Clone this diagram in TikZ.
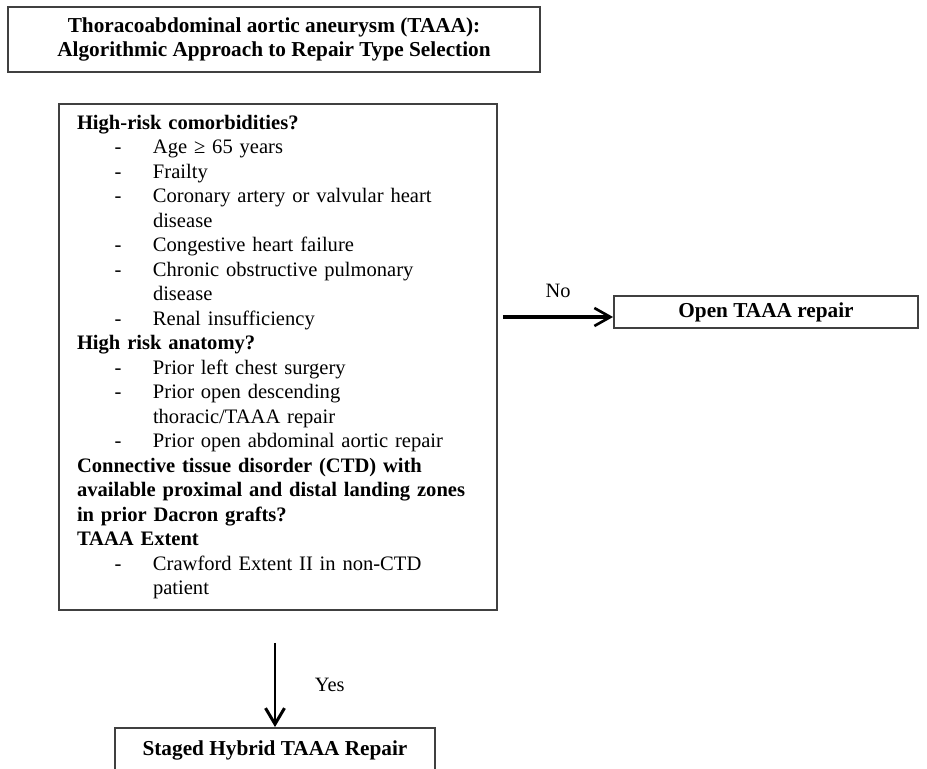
\documentclass[tikz,border=0pt]{standalone}
\usepackage{fontspec}
\setmainfont{Liberation Serif}
\usepackage{tikz}
\usetikzlibrary{arrows.meta,calc}

\begin{document}
\begin{tikzpicture}[
  box/.style={draw=black!75,line width=1.1pt,align=center,inner sep=0pt},
  boxfont/.style={font=\fontsize{12.1}{14.2}\selectfont\bfseries},
  flow/.style={-{Straight Barb[length=3.2mm,width=3.8mm,line width=1.7pt]},line width=1.1pt}]
  \useasboundingbox (0,0) rectangle (18.54,15.36);
  \node[box,boxfont,minimum width=10.64cm,minimum height=1.3cm] (title) at (5.48,14.57)
    {Thoracoabdominal aortic aneurysm (TAAA):\\Algorithmic Approach to Repair Type Selection};
  \node[box,text width=8.04cm,align=left,inner xsep=0.36cm,minimum height=10.12cm,
        font=\fontsize{11.7}{13.95}\selectfont] (risk) at (5.56,8.22)
    {\begin{tabular}{@{}p{0.75cm}@{}p{0.77cm}@{}l@{}}
      \multicolumn{3}{@{}l@{}}{\textbf{High-risk comorbidities?}}\\
      & - & Age ≥ 65 years\\
      & - & Frailty\\
      & - & Coronary artery or valvular heart\\
      &   & disease\\
      & - & Congestive heart failure\\
      & - & Chronic obstructive pulmonary\\
      &   & disease\\
      & - & Renal insufficiency\\
      \multicolumn{3}{@{}l@{}}{\textbf{High risk anatomy?}}\\
      & - & Prior left chest surgery\\
      & - & Prior open descending\\
      &   & thoracic/TAAA repair\\
      & - & Prior open abdominal aortic repair\\
      \multicolumn{3}{@{}l@{}}{\textbf{Connective tissue disorder (CTD) with}}\\
      \multicolumn{3}{@{}l@{}}{\textbf{available proximal and distal landing zones}}\\
      \multicolumn{3}{@{}l@{}}{\textbf{in prior Dacron grafts?}}\\
      \multicolumn{3}{@{}l@{}}{\textbf{TAAA Extent}}\\
      & - & Crawford Extent II in non-CTD\\
      &   & patient
    \end{tabular}};
  \node[box,boxfont,minimum width=6.08cm,minimum height=0.64cm] (open) at (15.32,9.12) {Open TAAA repair};
  \node[box,boxfont,minimum width=6.4cm,minimum height=0.88cm] (staged) at (5.5,0.36) {Staged Hybrid TAAA Repair};
  \draw[flow,line width=2.4pt,-{Straight Barb[length=3.2mm,width=3.6mm,line width=1.5pt]}]
    ($(risk.east |- open.west)+(0.1,-0.1)$) -- ($(open.west)+(0,-0.1)$)
    node[midway,above=0.22cm,font=\fontsize{11.6}{13}\selectfont] (no) {No};
  \draw[flow] ($(risk.south -| staged.north)+(0,-0.64)$) -- (staged.north)
    node[midway,right=0.66cm,font=\fontsize{11.6}{13}\selectfont] (yes) {Yes};
\end{tikzpicture}
\end{document}
